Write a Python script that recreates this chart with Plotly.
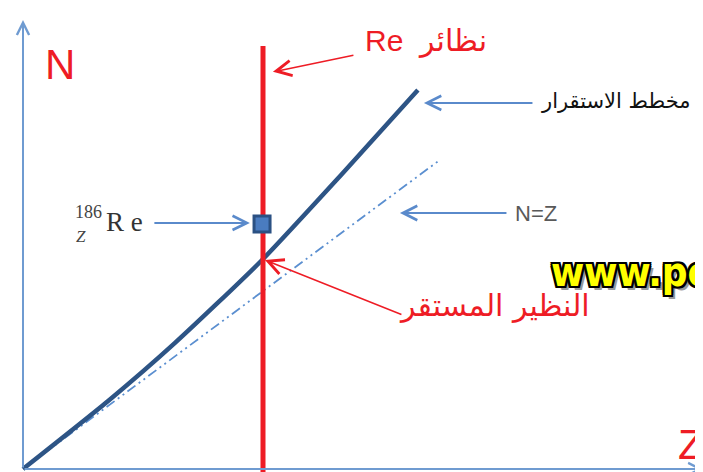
import plotly.graph_objects as go

# Stability curve (Z, N)
CURVE_Z = [0, 26.6, 47.5, 74.4, 99.4, 123.4]
CURVE_N = [0, 21.25, 39.4, 65, 91.9, 118.4]

# N = Z reference line
NZ_Z = [0, 130.3]
NZ_N = [0, 96.6]

# Isotopes of Re (vertical line) and the Re-186 point
RE_Z = [75, 75]
RE_N = [-2.2, 132.2]
RE186_Z = [74.7]
RE186_N = [76.6]

W, H = 703, 472

AXIS_BLUE = "#6f9bd1"
ARROW_BLUE = "#5a8acb"
RED = "#ee1c25"
CURVE_BLUE = "#2d5485"


def px(x):
    return x / W


def py(y):
    return 1 - y / H


fig = go.Figure()

fig.add_trace(go.Scatter(
    x=NZ_Z, y=NZ_N, mode="lines",
    line=dict(color="#5b8fd0", width=1.8, dash="10px,4px,2px,4px,2px,4px"),
    hoverinfo="skip"))

fig.add_trace(go.Scatter(
    x=CURVE_Z, y=CURVE_N, mode="lines", line_shape="spline",
    line=dict(color=CURVE_BLUE, width=4.5, smoothing=0.6),
    hoverinfo="skip"))

fig.add_trace(go.Scatter(
    x=RE_Z, y=RE_N, mode="lines",
    line=dict(color=RED, width=5),
    hoverinfo="skip"))

fig.add_trace(go.Scatter(
    x=RE186_Z, y=RE186_N, mode="markers",
    marker=dict(symbol="square", size=16, color="#4a7cc0",
                line=dict(color="#2b5183", width=3)),
    hoverinfo="skip"))

# axes drawn as arrows
fig.add_annotation(x=0, y=140.3, ax=0, ay=449, xref="x", yref="y", text="",
                   showarrow=True, arrowhead=5, arrowsize=1.2, arrowwidth=2,
                   arrowcolor=AXIS_BLUE)
fig.add_annotation(x=212.5, y=0, ax=-680, ay=0, xref="x", yref="y", text="",
                   showarrow=True, arrowhead=5, arrowsize=1.2, arrowwidth=2,
                   arrowcolor=AXIS_BLUE)

# pointer arrows
arrows = [
    (78.1, 124.1, 82, -17, RED, 1.5, 2.0),
    (125.3, 114.4, 110, 0, ARROW_BLUE, 2, 1.4),
    (117.8, 80, 108, 0, ARROW_BLUE, 2, 1.4),
    (70.9, 76.9, -97, 0, ARROW_BLUE, 2, 1.4),
    (75.6, 65.3, 138, 55, RED, 1.5, 2.0),
]
for x, y, ax, ay, col, w, s in arrows:
    fig.add_annotation(x=x, y=y, ax=ax, ay=ay, xref="x", yref="y", text="",
                       showarrow=True, arrowhead=5, arrowsize=s, arrowwidth=w,
                       arrowcolor=col)

labels = [
    ("N", 52, 56, 42, RED, "Liberation Sans"),
    ("Z", 683, 436, 42, RED, "Liberation Sans"),
    ("Re  نظائر", 418, 33, 30, RED, "Liberation Sans, DejaVu Sans"),
    ("مخطط الاستقرار", 608, 93, 21, "#111111", "DejaVu Sans"),
    ("N=Z", 528, 205, 22, "#595959", "Liberation Sans"),
    ("النظير المستقر", 486, 297, 30, RED, "DejaVu Sans"),
    ("R e", 116, 214, 27, "#333333", "Liberation Serif"),
    ("186", 80, 204, 18, "#444444", "Liberation Serif"),
    ("<i>Z</i>", 73, 228, 17, "#444444", "Liberation Serif"),
    ("يوضح الشكل التالي مخطط الاستقرار للنوى ونظائر عنصر الرينيوم", 330, -13, 21,
     "#111111", "DejaVu Sans"),
]
for text, x, y, size, col, fam in labels:
    fig.add_annotation(x=px(x), y=py(y), xref="paper", yref="paper", text=text,
                       showarrow=False, xanchor="center", yanchor="middle",
                       font=dict(size=size, color=col, family=fam))

# watermark, cut by the right edge as in the source image
fig.add_annotation(
    x=px(541), y=py(264), xref="paper", yref="paper", text="www.pc-lab",
    showarrow=False, xanchor="left", yanchor="middle",
    font=dict(size=40, color="#ffff00", family="DejaVu Sans Condensed", weight="bold",
              shadow="2px 0 0 #000, -2px 0 0 #000, 0 2px 0 #000, 0 -2px 0 #000, "
                     "2px 2px 0 #000, -2px -2px 0 #000, 2px -2px 0 #000, -2px 2px 0 #000, "
                     "4px 4px 0 #999"))

fig.update_layout(
    width=W, height=H,
    margin=dict(l=0, r=0, t=0, b=0),
    plot_bgcolor="white", paper_bgcolor="white",
    showlegend=False,
    xaxis=dict(range=[-4.6875, 215], visible=False, fixedrange=True),
    yaxis=dict(range=[-3.4375, 144.06], visible=False, fixedrange=True),
)

fig.write_html("out.html", config=dict(displayModeBar=False))
